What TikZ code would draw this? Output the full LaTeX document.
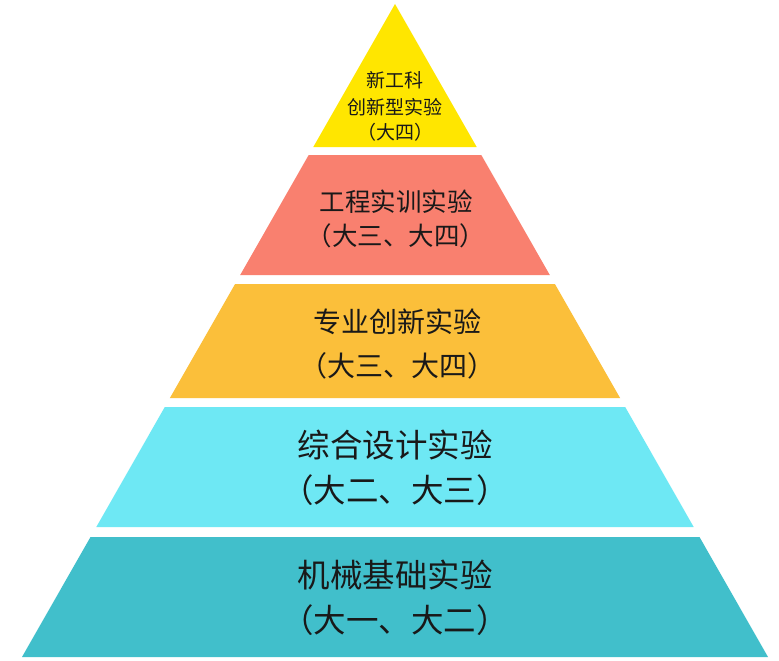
\documentclass[tikz,border=0pt]{standalone}
\usepackage{fontspec}
\newfontfamily\cjk{Noto Sans CJK SC}
\definecolor{cyel}{HTML}{FFE600}
\definecolor{cred}{HTML}{F9806F}
\definecolor{corg}{HTML}{FBBF3A}
\definecolor{ccya}{HTML}{6EE8F4}
\definecolor{ctea}{HTML}{41BFCB}
\tikzset{
  lbl/.style={inner sep=0pt, text=black!90, font=\cjk},
}
\begin{document}
\begin{tikzpicture}[x=1pt,y=-1pt]
\useasboundingbox[fill=white] (0,0) rectangle (779,661);
% layers
\fill[cyel] (395,4) -- (476.7,147) -- (313.3,147) -- cycle;
\fill[cred] (308.7,155) -- (481.3,155) -- (549.8,275) -- (240.2,275) -- cycle;
\fill[corg] (235.1,284) -- (554.9,284) -- (620.1,398) -- (169.9,398) -- cycle;
\fill[ccya] (164.8,407) -- (625.2,407) -- (693.7,527) -- (96.3,527) -- cycle;
\fill[ctea] (90.5,537) -- (699.5,537) -- (768,657) -- (22,657) -- cycle;
% texts
\node[lbl, font=\cjk\fontsize{19}{19}\selectfont] (t1a) at (395,80) {新工科};
\node[lbl, font=\cjk\fontsize{19}{19}\selectfont] (t1b) at (395,107) {创新型实验};
\node[lbl, font=\cjk\fontsize{19}{19}\selectfont] (t1c) at (395,132) {（大四）};
\node[lbl, font=\cjk\fontsize{25.5}{25.5}\selectfont] (t2a) at (396,202) {工程实训实验};
\node[lbl, font=\cjk\fontsize{25.5}{25.5}\selectfont] (t2b) at (396,236) {（大三、大四）};
\node[lbl, font=\cjk\fontsize{28}{28}\selectfont] (t3a) at (397,322) {专业创新实验};
\node[lbl, font=\cjk\fontsize{28}{28}\selectfont] (t3b) at (397,366) {（大三、大四）};
\node[lbl, font=\cjk\fontsize{32.5}{32.5}\selectfont] (t4a) at (395,445) {综合设计实验};
\node[lbl, font=\cjk\fontsize{32.5}{32.5}\selectfont] (t4b) at (395,490) {（大二、大三）};
\node[lbl, font=\cjk\fontsize{32.5}{32.5}\selectfont] (t5a) at (395,575) {机械基础实验};
\node[lbl, font=\cjk\fontsize{32.5}{32.5}\selectfont] (t5b) at (395,620) {（大一、大二）};
\end{tikzpicture}
\end{document}
